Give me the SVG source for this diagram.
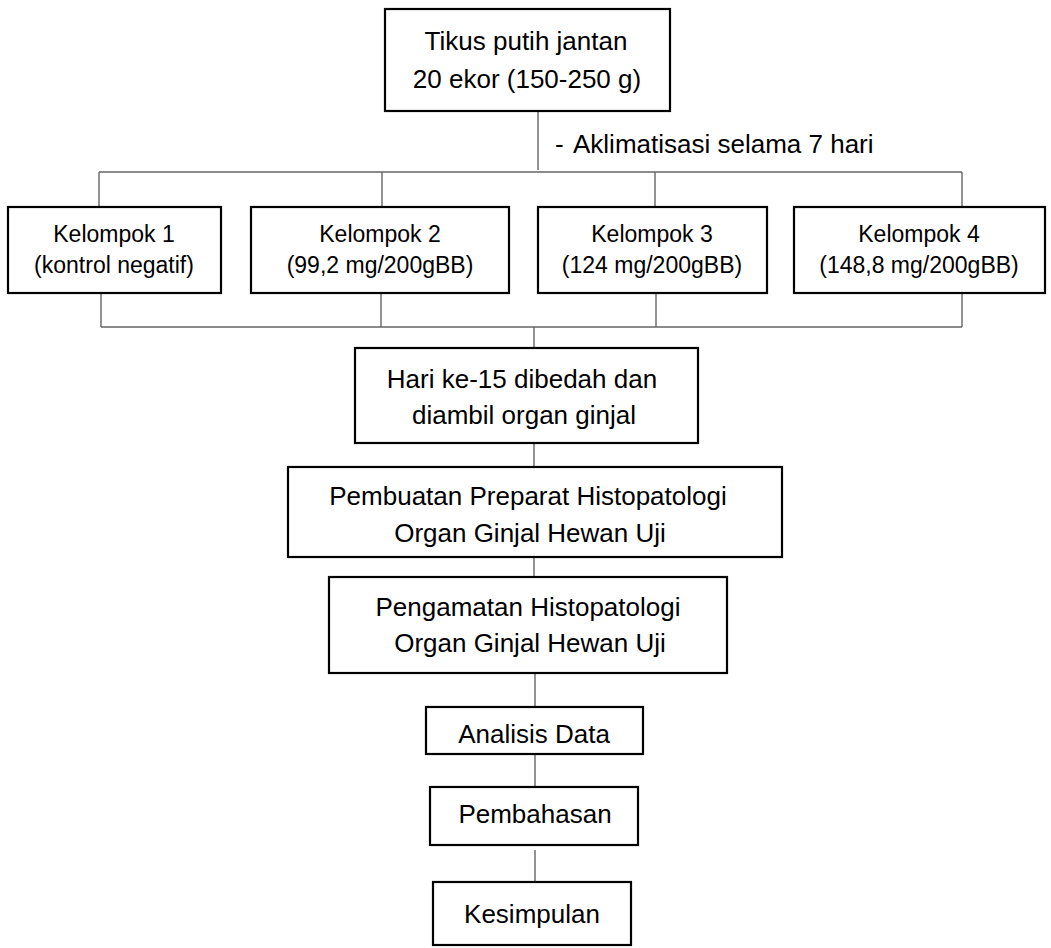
<svg xmlns="http://www.w3.org/2000/svg" width="1051" height="948" viewBox="0 0 1051 948">
<style>
.box{fill:#fff;stroke:#000;stroke-width:2.2}
.t{font-family:"Liberation Sans",Arial,sans-serif;font-size:26px;fill:#000;text-anchor:middle}
.s{font-family:"Liberation Sans",Arial,sans-serif;font-size:23px;fill:#000;text-anchor:middle}
.c{stroke:#666;stroke-width:1.4;fill:none}
</style>
<rect width="1051" height="948" fill="#fff"/>
<g id="connectors">
<path class="c" d="M538 111V170M99 172H962M99 172V207M382 172V207M655 172V207M962 172V207"/>
<path class="c" d="M101 293V327M381 293V327M656 293V327M962 293V327M101 327H962M534 327V348"/>
<path class="c" d="M534 443V467M534 557V577M535 673V707M535 754V787M535 850V882"/>
</g>
<g id="label"><text class="t" x="555" y="153" style="text-anchor:start">-</text><text class="t" x="573" y="153" style="text-anchor:start">Aklimatisasi selama 7 hari</text></g>
<g id="n1"><rect class="box" x="385" y="9" width="285" height="102"/><text class="t" x="526" y="50">Tikus putih jantan</text><text class="t" x="527" y="88">20 ekor (150-250 g)</text></g>
<g id="k1"><rect class="box" x="8" y="207" width="213" height="86"/><text class="s" x="114" y="242">Kelompok 1</text><text class="s" x="114" y="273">(kontrol negatif)</text></g>
<g id="k2"><rect class="box" x="251" y="207" width="258" height="86"/><text class="s" x="380" y="242">Kelompok 2</text><text class="s" x="380" y="273">(99,2 mg/200gBB)</text></g>
<g id="k3"><rect class="box" x="538" y="207" width="229" height="86"/><text class="s" x="652" y="242">Kelompok 3</text><text class="s" x="652" y="273">(124 mg/200gBB)</text></g>
<g id="k4"><rect class="box" x="794" y="207" width="251" height="86"/><text class="s" x="919" y="242">Kelompok 4</text><text class="s" x="919" y="273">(148,8 mg/200gBB)</text></g>
<g id="n2"><rect class="box" x="355" y="348" width="343" height="95"/><text class="t" x="522" y="388">Hari ke-15 dibedah dan</text><text class="t" x="524" y="424">diambil organ ginjal</text></g>
<g id="n3"><rect class="box" x="288" y="467" width="494" height="90"/><text class="t" x="528" y="505">Pembuatan Preparat Histopatologi</text><text class="t" x="530" y="542">Organ Ginjal Hewan Uji</text></g>
<g id="n4"><rect class="box" x="329" y="577" width="398" height="96"/><text class="t" x="528" y="616">Pengamatan Histopatologi</text><text class="t" x="530" y="652">Organ Ginjal Hewan Uji</text></g>
<g id="n5"><rect class="box" x="426" y="707" width="217" height="47"/><text class="t" x="534" y="743">Analisis Data</text></g>
<g id="n6"><rect class="box" x="430" y="787" width="208" height="58"/><text class="t" x="535" y="823">Pembahasan</text></g>
<g id="n7"><rect class="box" x="433" y="882" width="198" height="63"/><text class="t" x="532" y="923">Kesimpulan</text></g>
</svg>
